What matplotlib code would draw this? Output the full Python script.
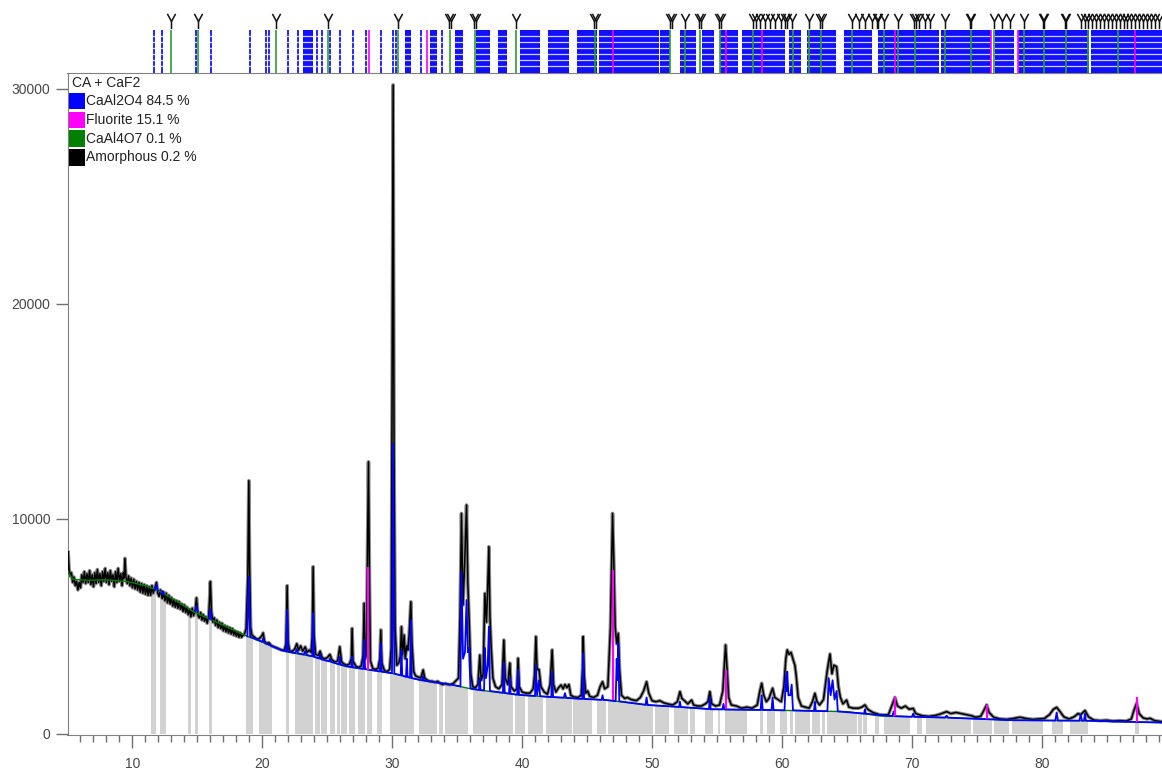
import numpy as np
import matplotlib
matplotlib.use("Agg")
import matplotlib.pyplot as plt
from matplotlib.patches import Polygon, Rectangle
from matplotlib.path import Path

plt.rcParams['font.family'] = ['Liberation Sans', 'DejaVu Sans']

W, H = 1162, 771

# --- data (2theta in degrees, counts) ---
bg_x = [5.0, 5.4, 6.5, 8.0, 9.6, 11.0, 11.9, 13.5, 14.7, 16.0, 17.5, 18.9, 20.5,
        21.8, 23.9, 26.5, 28.3, 30.0, 32.1, 34.7, 36.2, 39.8, 43.7, 46.5, 49.6,
        54.7, 59.9, 65.0, 67.6, 72.7, 77.8, 83.0, 89.3]
bg_y = [7550, 7200, 7150, 7170, 7090, 6900, 6700, 6150, 5690, 5330, 4920, 4530, 4150,
        3830, 3600, 3130, 2980, 2820, 2510, 2280, 2080, 1810, 1660, 1580, 1350,
        1150, 1100, 1040, 840, 760, 640, 620, 530]

obs_pts = [
    (5.0, 7600), (5.05, 8480), (5.12, 7700), (5.2, 7350), (5.3, 7500), (5.4, 7050),
    (5.5, 7300), (5.6, 6900), (5.7, 7100), (5.8, 6700), (5.9, 7050), (6.0, 6800),
    (6.1, 7400), (6.2, 7050), (6.3, 7550), (6.4, 7000), (6.5, 7450), (6.6, 7050),
    (6.7, 7600), (6.8, 6950), (6.9, 7400), (7.0, 6850), (7.1, 7500), (7.2, 7000),
    (7.3, 7650), (7.4, 7050), (7.5, 7450), (7.6, 6900), (7.7, 7550), (7.8, 7100),
    (7.9, 7700), (8.0, 7050), (8.1, 7500), (8.2, 6950), (8.3, 7600), (8.4, 7100),
    (8.5, 7400), (8.6, 6850), (8.7, 7550), (8.8, 7050), (8.9, 7700), (9.0, 7100),
    (9.1, 7450), (9.2, 6900), (9.3, 7500), (9.36, 7250), (9.42, 8170), (9.5, 7300),
    (9.6, 7000), (9.7, 7350), (9.8, 6900), (9.9, 7250), (10.0, 6800), (10.1, 7200),
    (10.2, 6750), (10.3, 7100), (10.4, 6700), (10.5, 7050), (10.6, 6600), (10.7, 7000),
    (10.8, 6550), (10.9, 6950), (11.0, 6500), (11.1, 6900), (11.2, 6450), (11.3, 6850),
    (11.4, 6450), (11.5, 6900), (11.6, 6550), (11.7, 6750), (11.85, 7050), (11.95, 6550),
    (12.05, 6400), (12.15, 6700), (12.3, 6300), (12.4, 6600), (12.5, 6200), (12.6, 6550),
    (12.7, 6100), (12.8, 6450), (12.9, 6050), (13.0, 6350), (13.1, 5950), (13.2, 6250),
    (13.3, 5900), (13.4, 6200), (13.5, 5850), (13.6, 6150), (13.7, 5800), (13.8, 6050),
    (13.9, 5700), (14.0, 6000), (14.1, 5650), (14.2, 5900), (14.3, 5550), (14.4, 5800),
    (14.5, 5450), (14.6, 5850), (14.7, 5500), (14.82, 5700), (14.93, 6330), (15.05, 5500),
    (15.15, 5400), (15.25, 5650), (15.35, 5300), (15.45, 5550), (15.55, 5250), (15.65, 5450),
    (15.75, 5150), (15.87, 5500), (15.95, 6400), (16.0, 7090), (16.08, 5700), (16.2, 5200),
    (16.3, 5400), (16.4, 5050), (16.5, 5300), (16.6, 4950), (16.7, 5200), (16.8, 4900),
    (16.9, 5150), (17.0, 4800), (17.1, 5050), (17.2, 4750), (17.3, 5000), (17.4, 4700),
    (17.5, 4950), (17.6, 4650), (17.7, 4900), (17.8, 4600), (17.9, 4800), (18.0, 4550),
    (18.1, 4750), (18.2, 4500), (18.3, 4700), (18.4, 4500), (18.5, 4600), (18.6, 4600),
    (18.75, 4900), (18.88, 7300), (18.96, 11780), (19.02, 7800), (19.1, 4950), (19.2, 4600),
    (19.4, 4500), (19.6, 4400), (19.8, 4450), (20.0, 4600), (20.06, 4700), (20.15, 4350),
    (20.3, 4200), (20.5, 4250), (20.7, 4100), (20.9, 4050), (21.1, 4000), (21.3, 3950),
    (21.5, 3900), (21.7, 3900), (21.82, 4200), (21.91, 6900), (21.98, 4300), (22.1, 3850),
    (22.3, 3850), (22.5, 3950), (22.65, 4200), (22.8, 3900), (22.95, 4100), (23.1, 3850),
    (23.3, 4050), (23.45, 3800), (23.6, 3900), (23.75, 3800), (23.84, 4500), (23.91, 7780),
    (23.98, 4600), (24.1, 3700), (24.3, 3650), (24.45, 3850), (24.6, 3550), (24.8, 3500),
    (25.0, 3550), (25.2, 3700), (25.35, 3450), (25.6, 3350), (25.8, 3400), (25.96, 4060),
    (26.1, 3350), (26.3, 3250), (26.5, 3200), (26.7, 3250), (26.85, 3500), (26.91, 4910),
    (26.98, 3400), (27.2, 3150), (27.4, 3100), (27.6, 3150), (27.75, 3600), (27.84, 6080),
    (27.92, 3500), (28.02, 3700), (28.1, 8800), (28.17, 12660), (28.25, 7000), (28.32, 3400),
    (28.5, 3050), (28.7, 3000), (28.9, 3050), (29.05, 3500), (29.12, 4840), (29.2, 3300),
    (29.4, 2950), (29.6, 2900), (29.8, 3000), (29.92, 4000), (29.98, 14500), (30.07, 30190),
    (30.14, 13000), (30.22, 5000), (30.35, 3200), (30.5, 3300), (30.62, 3600), (30.71, 4990),
    (30.8, 3700), (30.92, 4600), (31.0, 3500), (31.12, 4100), (31.2, 3900), (31.3, 4600),
    (31.43, 6150), (31.52, 4200), (31.65, 2900), (31.8, 2700), (32.0, 2650), (32.2, 2600),
    (32.38, 2980), (32.5, 2600), (32.7, 2500), (32.9, 2450), (33.1, 2450), (33.3, 2400),
    (33.5, 2450), (33.7, 2350), (33.9, 2300), (34.1, 2350), (34.3, 2300), (34.5, 2300),
    (34.7, 2350), (34.95, 2510), (35.1, 2600), (35.22, 5500), (35.33, 10260), (35.45, 6000),
    (35.58, 8000), (35.72, 10650), (35.82, 7000), (35.92, 5300), (36.05, 2800), (36.2, 2200),
    (36.4, 2150), (36.6, 2300), (36.74, 3670), (36.85, 2500), (37.0, 2800), (37.13, 6540),
    (37.25, 5200), (37.35, 6800), (37.44, 8710), (37.52, 5500), (37.62, 4000), (37.75, 2600),
    (37.95, 2200), (38.2, 2100), (38.45, 2300), (38.59, 4370), (38.7, 2600), (38.9, 2300),
    (39.05, 3300), (39.15, 2200), (39.4, 2000), (39.6, 2100), (39.69, 3520), (39.78, 2200),
    (40.0, 1950), (40.3, 1900), (40.6, 1900), (40.85, 2100), (40.95, 2700), (41.06, 4530),
    (41.15, 3000), (41.3, 3000), (41.45, 2200), (41.7, 1950), (41.95, 1850), (42.15, 2300),
    (42.31, 3910), (42.42, 2300), (42.6, 1950), (42.8, 2150), (43.0, 2280), (43.15, 2100),
    (43.3, 2300), (43.45, 2150), (43.6, 2300), (43.75, 1800), (44.0, 1720), (44.3, 1700),
    (44.55, 1800), (44.65, 3000), (44.70, 4530), (44.78, 2700), (44.9, 1900), (45.05, 2000),
    (45.2, 1750), (45.5, 1700), (45.8, 1800), (46.0, 2200), (46.19, 2430), (46.35, 2100),
    (46.6, 2200), (46.8, 5000), (46.96, 10260), (47.06, 8000), (47.16, 5000), (47.28, 4200),
    (47.40, 4680), (47.5, 3000), (47.65, 1800), (47.9, 1650), (48.1, 1700), (48.4, 1600),
    (48.8, 1550), (49.1, 1700), (49.35, 2000), (49.58, 2430), (49.75, 1900), (50.0, 1550),
    (50.3, 1500), (50.6, 1550), (50.9, 1450), (51.2, 1400), (51.6, 1350), (51.95, 1500),
    (52.15, 1970), (52.3, 1650), (52.5, 1550), (52.75, 1400), (53.05, 1580), (53.2, 1350),
    (53.5, 1300), (53.8, 1300), (54.1, 1400), (54.3, 1500), (54.45, 1970), (54.6, 1400),
    (54.9, 1300), (55.2, 1350), (55.45, 2000), (55.66, 4140), (55.78, 3000), (55.9, 1700),
    (56.1, 1350), (56.5, 1300), (56.9, 1200), (57.3, 1250), (57.7, 1200), (58.1, 1350),
    (58.3, 2000), (58.44, 2360), (58.6, 1800), (58.8, 1500), (59.0, 1650), (59.28, 2130),
    (59.45, 1700), (59.7, 1600), (59.95, 1500), (60.15, 2200), (60.3, 3500), (60.41, 3910),
    (60.55, 3700), (60.7, 3800), (60.87, 3440), (61.0, 3200), (61.1, 2700), (61.25, 1700),
    (61.5, 1300), (61.8, 1250), (62.1, 1200), (62.35, 1500), (62.54, 1890), (62.7, 1500),
    (62.9, 1350), (63.2, 1600), (63.5, 3000), (63.70, 3720), (63.85, 2800), (64.0, 3200),
    (64.21, 3130), (64.35, 2200), (64.5, 1700), (64.7, 1400), (64.98, 1580), (65.15, 1250),
    (65.5, 1200), (65.9, 1200), (66.15, 1250), (66.39, 1350), (66.6, 1150), (67.0, 1000),
    (67.5, 900), (67.9, 880), (68.2, 900), (68.45, 1300), (68.70, 1700), (68.9, 1300),
    (69.2, 1200), (69.5, 1300), (69.8, 1150), (70.11, 1190), (70.3, 950), (70.8, 850),
    (71.3, 820), (71.8, 860), (72.2, 930), (72.68, 1040), (73.0, 950), (73.4, 1000),
    (73.8, 950), (74.2, 900), (74.6, 850), (74.9, 780), (75.3, 820), (75.55, 1100),
    (75.76, 1350), (75.95, 1000), (76.3, 780), (76.8, 700), (77.3, 680), (77.8, 720),
    (78.33, 780), (78.8, 720), (79.3, 680), (79.7, 700), (80.2, 720), (80.6, 900),
    (80.9, 1150), (81.15, 1240), (81.4, 1050), (81.7, 800), (82.1, 700), (82.5, 800),
    (82.8, 950), (83.0, 900), (83.33, 1090), (83.6, 800), (84.0, 650), (84.5, 620),
    (85.0, 640), (85.5, 600), (86.0, 620), (86.5, 600), (86.9, 700), (87.1, 1100),
    (87.31, 1430), (87.5, 950), (87.8, 750), (88.1, 700), (88.34, 730), (88.7, 620),
    (89.3, 570),
]
obs_x = [p[0] for p in obs_pts]
obs_y = [p[1] for p in obs_pts]

# calculated CaAl2O4 profile (blue); None breaks the line at low angle
calc_pts = [
    (11.75, 6720), (11.85, 6950), (11.95, 6680), (None, None),
    (12.25, 6540), (12.32, 6650), (12.4, 6500), (None, None),
    (14.85, 5740), (14.93, 5950), (15.01, 5700), (None, None),
    (15.92, 5370), (16.0, 5800), (16.08, 5330), (None, None),
    (18.85, 4540), (18.96, 7320), (19.06, 4520), (19.5, 4420), (19.98, 4290),
    (20.06, 4450), (20.14, 4270), (20.5, 4150), (21.0, 4030), (21.5, 3900),
    (21.84, 3840), (21.91, 5770), (21.98, 3830), (22.55, 3760), (22.65, 3950),
    (22.75, 3750), (23.2, 3700), (23.3, 3850), (23.4, 3680), (23.84, 3620),
    (23.91, 5610), (23.98, 3590), (24.38, 3510), (24.45, 3700), (24.52, 3480),
    (25.12, 3380), (25.2, 3500), (25.28, 3360), (25.9, 3240), (25.96, 3600),
    (26.02, 3220), (26.85, 3110), (26.91, 3600), (26.97, 3100), (27.77, 3030),
    (27.84, 4370), (27.91, 3020), (28.5, 2960), (29.05, 2910), (29.12, 4230),
    (29.19, 2900), (29.98, 2830), (30.07, 13500), (30.16, 2810), (30.65, 2730),
    (30.71, 3900), (30.77, 2720), (31.06, 2660), (31.12, 3500), (31.18, 2650),
    (31.37, 2620), (31.43, 5300), (31.5, 2600), (32.32, 2490), (32.38, 2700),
    (32.44, 2480), (33.5, 2390), (34.7, 2280), (35.25, 2210), (35.33, 7550),
    (35.45, 3500), (35.6, 3800), (35.72, 6230), (35.82, 3800), (35.92, 4000),
    (36.02, 2120), (36.68, 2050), (36.74, 2600), (36.8, 2040), (37.07, 2030),
    (37.13, 4000), (37.22, 2600), (37.35, 3200), (37.44, 4990), (37.52, 2000),
    (38.52, 1920), (38.59, 3300), (38.66, 1910), (38.99, 1880), (39.05, 2600),
    (39.11, 1870), (39.62, 1830), (39.69, 3000), (39.76, 1820), (40.99, 1770),
    (41.06, 3200), (41.15, 1800), (41.3, 2500), (41.38, 1760), (42.24, 1720),
    (42.31, 2900), (42.38, 1720), (43.2, 1690), (43.3, 1900), (43.4, 1680),
    (44.63, 1630), (44.7, 3750), (44.77, 1630), (46.12, 1590), (46.19, 1800),
    (46.26, 1590), (47.2, 1530), (47.28, 3500), (47.34, 2500), (47.4, 4200),
    (47.48, 1520), (49.5, 1360), (49.58, 1700), (49.66, 1350), (52.08, 1260),
    (52.15, 1500), (52.22, 1255), (54.38, 1160), (54.45, 1700), (54.52, 1150),
    (55.42, 1145), (55.5, 1400), (55.58, 1140), (58.36, 1120), (58.44, 1800),
    (58.52, 1120), (59.2, 1115), (59.28, 1700), (59.36, 1110), (60.2, 1100),
    (60.3, 2700), (60.36, 2000), (60.41, 2900), (60.5, 1800), (60.65, 1800),
    (60.75, 2300), (60.85, 1100), (62.47, 1070), (62.54, 1500), (62.61, 1070),
    (63.5, 1060), (63.6, 2600), (63.75, 1800), (63.9, 2500), (64.05, 1600),
    (64.21, 2000), (64.3, 1050), (66.32, 950), (66.39, 1150), (66.46, 940),
    (68.5, 830), (68.6, 1050), (68.7, 830), (70.0, 800), (70.11, 950), (70.2, 800),
    (72.55, 765), (72.68, 850), (72.8, 760), (77.8, 640), (81.05, 625), (81.15, 1000),
    (81.25, 625), (82.9, 620), (83.0, 900), (83.1, 620), (83.25, 620), (83.33, 950),
    (83.4, 620), (86.0, 575), (89.3, 530),
]
calc_x = [np.nan if p[0] is None else p[0] for p in calc_pts]
calc_y = [np.nan if p[1] is None else p[1] for p in calc_pts]

# Fluorite peaks (magenta): position, base, top
fl_pos = [28.17, 46.96, 55.66, 68.70, 75.76, 87.31]
fl_base = [2980, 1580, 1140, 820, 690, 570]
fl_top = [7780, 7630, 2980, 1700, 1350, 1700]

# grey bars under the background
gray_bars = [
    (11.46, 11.85), (12.10, 12.56), (14.24, 14.49), (14.85, 15.05), (15.88, 16.16),
    (18.78, 19.29), (19.75, 20.78), (21.81, 22.06), (22.50, 23.91), (24.04, 24.42),
    (24.55, 24.94), (25.19, 25.58), (25.71, 25.96), (26.09, 26.48), (26.68, 27.12),
    (27.37, 27.88), (28.02, 28.48), (28.79, 29.25), (29.81, 31.66), (32.07, 33.41),
    (33.61, 33.87), (34.05, 35.84), (36.23, 39.31), (39.44, 40.21), (40.46, 41.62),
    (41.83, 43.81), (43.93, 45.35), (45.73, 46.45), (46.62, 50.09), (50.22, 51.32),
    (51.68, 52.78), (52.91, 53.30), (54.07, 54.71), (55.10, 55.23), (55.61, 57.28),
    (58.31, 58.56), (58.82, 59.46), (59.85, 60.36), (60.63, 60.87), (61.00, 62.16),
    (62.29, 62.93), (63.06, 63.31), (63.44, 65.75), (65.88, 66.14), (66.26, 66.57),
    (67.16, 67.49), (67.85, 69.85), (70.37, 70.76), (71.06, 74.53), (74.73, 76.19),
    (76.35, 77.50), (77.69, 80.12), (80.77, 81.66), (82.18, 83.59), (87.18, 87.51),
]

# reflection ticks in the top strip
caal2o4_lines = [11.64, 12.30, 14.93, 16.01, 19.04, 20.27, 20.53, 22.0, 22.76, 24.17,
                 24.56, 25.2, 25.96, 26.99, 28.0, 29.17, 30.06, 30.32, 32.25, 33.8]
caal2o4_bands = [(23.1, 23.9), (30.97, 31.48), (32.89, 33.41), (34.82, 35.46),
                 (36.48, 37.5), (38.15, 38.8), (39.82, 41.36), (41.98, 43.64),
                 (44.25, 45.78), (45.93, 50.50), (50.65, 51.41), (52.17, 53.39),
                 (53.84, 54.77), (55.21, 56.58), (56.89, 60.23), (60.54, 61.46),
                 (61.91, 64.19), (64.80, 66.93), (67.39, 72.09), (72.24, 76.06),
                 (76.37, 77.89), (78.20, 83.67), (83.83, 89.3)]
fluorite_ticks = [28.22, 32.69, 47.0, 55.67, 58.5, 68.7, 76.06, 78.2, 87.18]
caal4o7_ticks = [12.95, 15.05, 21.04, 25.06, 30.45, 34.43, 36.36, 39.53, 45.62,
                 51.41, 52.57, 53.70, 55.21, 57.8, 60.85, 62.06, 62.97, 65.41,
                 67.85, 68.91, 70.28, 72.56, 74.54, 76.36, 78.65, 80.17, 81.84, 83.6, 85.9]
v_marks = [12.95, 15.05, 21.04, 25.06, 30.45, 34.35, 34.5, 36.3, 36.45, 39.53,
           45.55, 45.7, 51.35, 51.5, 52.57, 53.65, 53.75, 55.15, 55.3, 57.8, 58.0,
           58.3, 58.7, 59.1, 59.5, 59.9, 60.25, 60.4, 60.75, 62.06, 62.9, 63.05,
           65.4, 65.9, 66.4, 66.9, 67.3, 67.4, 67.85, 68.91, 70.2, 70.35, 70.55,
           71.0, 71.4, 72.56, 74.5, 74.58, 76.36, 76.97, 77.58, 78.65, 80.1, 80.2,
           81.8, 81.9, 83.05, 83.3, 83.6, 83.9, 84.2, 84.5, 84.8, 85.1, 85.4, 85.7,
           86.0, 86.3, 86.6, 86.9, 87.2, 87.5, 87.8, 88.1, 88.4, 88.7, 89.0]

legend_title = "CA + CaF2"
legend_labels = ["CaAl2O4 84.5 %", "Fluorite 15.1 %", "CaAl4O7 0.1 %", "Amorphous 0.2 %"]
legend_colors = ["#0000ff", "#ff00ff", "#008000", "#000000"]

xmin, xmax = 5.0, 89.26

# --- figure ---
fig = plt.figure(figsize=(W / 100, H / 100), dpi=100)
ax = fig.add_axes([67.5 / W, (H - 735) / H, (W - 67.5) / W, (735 - 72.7) / H])
ax.set_xlim(xmin, xmax)
ax.set_ylim(-47, 30757)

# grey bars clipped to the area under the background
under = Polygon([(bg_x[0], 0)] + list(zip(bg_x, bg_y)) + [(bg_x[-1], 0)],
                closed=True, facecolor='none', edgecolor='none')
ax.add_patch(under)
bars = ax.broken_barh([(a, b - a) for a, b in gray_bars], (0, 12000),
                      facecolors='#d2d2d2', edgecolor='none', zorder=1)
bars.set_clip_path(under)

ax.plot(obs_x, obs_y, color='#8a8a8a', lw=2.6, zorder=2)
ax.plot(obs_x, obs_y, color='black', lw=1.1, zorder=3)
ax.plot(bg_x, bg_y, color='#008000', lw=1.0, zorder=4)
ax.plot(calc_x, calc_y, color='#0000ff', lw=1.3, zorder=5)
ax.vlines(fl_pos, fl_base, fl_top, color='#ff00ff', lw=1.6, zorder=6)

for s in ['left', 'bottom', 'top']:
    ax.spines[s].set_color('#808080')
ax.spines['right'].set_visible(False)
ax.set_xticks(range(10, 90, 10))
ax.set_xticks(range(6, 90), minor=True)
ax.set_yticks([0, 10000, 20000, 30000])
ax.tick_params(which='major', length=9, width=1, color='#707070',
               labelsize=10, labelcolor='#474747', pad=6.5)
ax.tick_params(axis='y', which='major', length=8.5, pad=4)
ax.tick_params(which='minor', length=4.7, width=1, color='#707070')

# legend in the top-left corner
fig.text(71.5 / W, 1 - 83 / H, legend_title, fontsize=10, color='#222222', va='center')
for i, (lab, col) in enumerate(zip(legend_labels, legend_colors)):
    yc = 101 + i * 18.8
    fig.patches.append(Rectangle((68.5 / W, 1 - (yc + 8.3) / H), 16 / W, 16.6 / H,
                                 transform=fig.transFigure, facecolor=col,
                                 edgecolor='none'))
    fig.text(86 / W, 1 - yc / H, lab, fontsize=10, color='#222222', va='center')

# --- top strip with reflection ticks ---
top = fig.add_axes([67.5 / W, (H - 72.7) / H, (W - 67.5) / W, 72.7 / H])
top.set_xlim(xmin, xmax)
top.set_ylim(72.7, 0)
top.axis('off')
top.vlines(caal2o4_lines, 30, 72.7, color='#0000ff', lw=1.2)
top.broken_barh([(a, b - a) for a, b in caal2o4_bands], (30, 42.7),
                facecolors='#1010ff', edgecolor='none')
for yy in [36, 42, 48, 54, 60, 66]:
    top.axhline(yy, color='white', lw=0.9, alpha=0.8)
top.vlines(caal4o7_ticks, 30, 72.7, color='#2e9e2e', lw=1.2)
top.vlines(fluorite_ticks, 30, 72.7, color='#ff00ff', lw=1.2)

v_path = Path([(-0.27, 0.5), (0, 0), (0.27, 0.5), (0, 0), (0, -0.5)],
              [Path.MOVETO, Path.LINETO, Path.LINETO, Path.MOVETO, Path.LINETO])
top.plot(v_marks, [20.5] * len(v_marks), ls='none', marker=v_path, ms=11,
         mec='#111111', mfc='none', mew=1.1)

fig.savefig('out.png', dpi=100)
